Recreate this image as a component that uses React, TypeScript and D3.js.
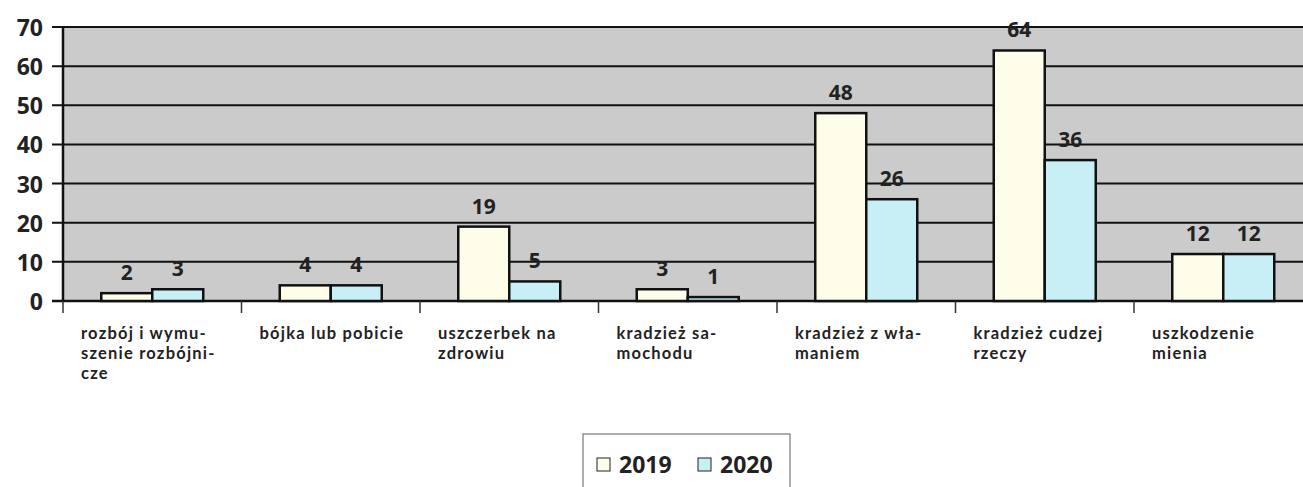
import React from 'react';
import * as d3 from 'd3';

const categories = [
  ['rozbój i wymu-', 'szenie rozbójni-', 'cze'],
  ['bójka lub pobicie'],
  ['uszczerbek na', 'zdrowiu'],
  ['kradzież sa-', 'mochodu'],
  ['kradzież z wła-', 'maniem'],
  ['kradzież cudzej', 'rzeczy'],
  ['uszkodzenie', 'mienia'],
];
const values2019 = [2, 4, 19, 3, 48, 64, 12];
const values2020 = [3, 4, 5, 1, 26, 36, 12];
const yTicks = [0, 10, 20, 30, 40, 50, 60, 70];
const seriesNames = ['2019', '2020'];
const seriesColors = ['#fdfde9', '#c8eef6'];

const W = 1303;
const H = 487;
const left = 63;
const band = 178.5;
const top = 27;
const bottom = 301;
const font = '"Open Sans", "Liberation Sans", sans-serif';
const labelFont = 'Lato, "Open Sans", sans-serif';

export default function App() {
  const x = d3
    .scaleBand<number>()
    .domain(d3.range(categories.length))
    .range([left, left + band * categories.length])
    .paddingInner(0)
    .paddingOuter(0);
  const y = d3.scaleLinear().domain([0, 70]).range([bottom, top]);
  const barW = 51;

  return (
    <svg
      width={W}
      height={H}
      style={{ position: 'absolute', left: 0, top: 0, background: '#fff' }}
      fontFamily={font}
    >
      {/* plot background */}
      <rect x={left} y={top} width={W - left + 20} height={bottom - top} fill="#cbcbcb" />

      {/* gridlines */}
      {yTicks.map((t) => (
        <line
          key={t}
          x1={left - 11}
          x2={W}
          y1={y(t)}
          y2={y(t)}
          stroke="#111"
          strokeWidth={t === 0 ? 2.5 : 2}
        />
      ))}
      <line x1={left} x2={left} y1={top} y2={bottom} stroke="#111" strokeWidth={2.5} />

      {/* y labels */}
      {yTicks.map((t) => (
        <text
          key={t}
          x={43}
          y={y(t)}
          textAnchor="end"
          dominantBaseline="central"
          fontSize={23}
          fontWeight={700}
          fill="#222"
        >
          {t}
        </text>
      ))}

      {/* x ticks */}
      {d3.range(categories.length + 1).map((i) => (
        <line
          key={i}
          x1={left + band * i}
          x2={left + band * i}
          y1={bottom}
          y2={bottom + 12}
          stroke="#333"
          strokeWidth={1.5}
        />
      ))}

      {/* bars */}
      {categories.map((_, i) => {
        const cx = (x(i) as number) + x.bandwidth() / 2;
        return [values2019, values2020].map((vals, s) => {
          const bx = s === 0 ? cx - barW : cx;
          const v = vals[i];
          return (
            <g key={`${i}-${s}`}>
              <rect
                x={bx}
                y={y(v)}
                width={barW}
                height={y(0) - y(v)}
                fill={seriesColors[s]}
                stroke="#111"
                strokeWidth={2.5}
              />
              <text
                x={bx + barW / 2}
                y={y(v) - 13}
                textAnchor="middle"
                fontSize={21}
                fontWeight={700}
                fill="#222"
              >
                {v}
              </text>
            </g>
          );
        });
      })}

      {/* category labels */}
      {categories.map((lines, i) =>
        lines.map((l, j) => (
          <text
            key={`${i}-${j}`}
            x={(x(i) as number) + 18}
            y={338.5 + j * 20}
            fontFamily={labelFont}
            fontSize={16.5}
            fontWeight={700}
            letterSpacing={1.2}
            fill="#222"
          >
            {l}
          </text>
        ))
      )}

      {/* legend */}
      <rect x={583} y={434} width={207} height={60} fill="#fff" stroke="#777" strokeWidth={1.2} />
      {seriesNames.map((n, i) => {
        const lx = 597 + i * 101;
        return (
          <g key={n}>
            <rect x={lx} y={458} width={13} height={13} fill={seriesColors[i]} stroke="#222" strokeWidth={1} />
            <text x={lx + 22} y={473} fontSize={23} fontWeight={700} fill="#222">
              {n}
            </text>
          </g>
        );
      })}
    </svg>
  );
}
